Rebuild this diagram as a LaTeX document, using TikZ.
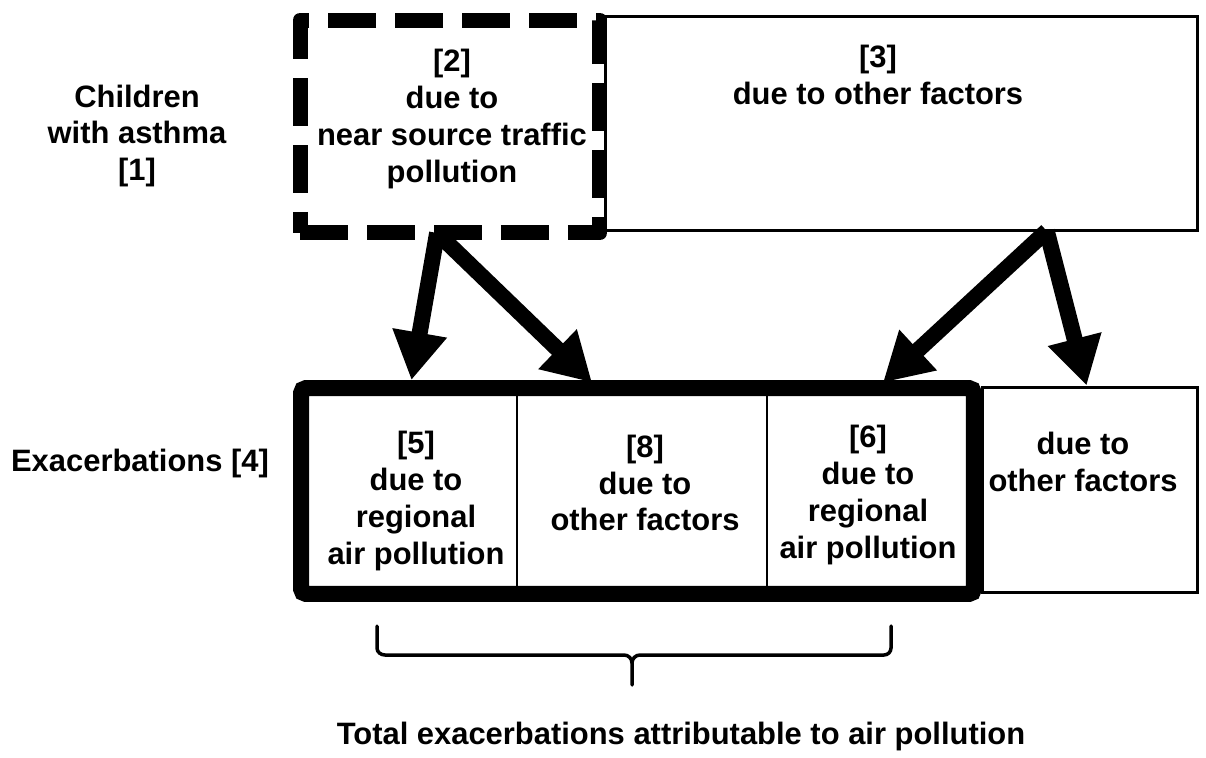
\documentclass[tikz,border=0pt]{standalone}
\usepackage{fontspec}
\setmainfont{Liberation Sans}
\usetikzlibrary{calc,arrows.meta}
\tikzset{
  box/.style={draw, rectangle, outer sep=0pt, inner sep=0pt},
  thinbox/.style={box, line width=0.06cm},
  dashbox/.style={box, line width=0.3cm, dash pattern=on 0.96cm off 0.38cm, line join=round},
  thickbox/.style={box, line width=0.32cm, rounded corners=0.1cm},
  txt/.style={align=center, inner sep=0pt, font=\bfseries\fontsize{17.6pt}{21pt}\selectfont},
  fatarrow/.style={-{Triangle[length=0.96cm,width=1.04cm]}, line width=0.32cm},
}

\begin{document}
\begin{tikzpicture}[x=0.02cm,y=-0.02cm]
  \useasboundingbox (0,0) rectangle (1206,757);
  \node[thinbox, minimum width=11.86cm, minimum height=4.3cm] (other) at (901.5,123.5) {};
  \node[dashbox, minimum width=6cm, minimum height=4.26cm] (near) at (450,126.5) {};
  \node[thinbox, minimum width=4.32cm, minimum height=4.12cm] (rest) at (1090,490) {};
  \node[thickbox, minimum width=13.46cm, minimum height=4.12cm] (exac) at (637.5,491) {};
  \draw[line width=0.04cm] (517,388) -- (517,594);
  \draw[line width=0.04cm] (767,388) -- (767,594);

  \node[txt] (children) at (137,136) {Children\\with asthma\\{[1]}};
  \node[txt] (exaclbl) at (140,463) {Exacerbations [4]};
  \node[txt] (nearlbl) at (452,119) {{[2]}\\due to\\near source traffic\\pollution};
  \node[txt] (otherlbl) at (878,75) {{[3]}\\due to other factors};
  \node[txt] (regA) at (416,501) {{[5]}\\due to\\regional\\air pollution};
  \node[txt] (otherA) at (645,483) {{[8]}\\due to\\other factors};
  \node[txt] (regB) at (868,495) {{[6]}\\due to\\regional\\air pollution};
  \node[txt] (otherB) at (1083,462) {due to\\other factors};
  \node[txt] (total) at (681,736) {Total exacerbations attributable to air pollution};

  \coordinate (nearfoot) at ($(near.south west)!0.457!(near.south east)$);
  \coordinate (otherfoot) at ($(other.south west)!0.745!(other.south east)$);
  \draw[fatarrow, shorten >=0.16cm] (nearfoot) -- ($(exac.north west)!0.162!(exac.north east)$);
  \draw[fatarrow, shorten >=0.16cm] (nearfoot) -- ($(exac.north west)!0.441!(exac.north east)$);
  \draw[fatarrow, shorten >=0.16cm] (otherfoot) -- ($(exac.north west)!0.856!(exac.north east)$);
  \draw[fatarrow, shorten >=0.03cm] (otherfoot) -- ($(rest.north west)!0.486!(rest.north east)$);

  \draw[line width=0.07cm, line cap=round] (377,626) -- (377,648) to[out=-90,in=180] (385,655) -- (624,655)
    to[out=0,in=90] (632,663) -- (632,685);
  \draw[line width=0.07cm, line cap=round] (632,663) to[out=90,in=180] (640,655) -- (884,655)
    to[out=0,in=-90] (891,648) -- (891,626);
\end{tikzpicture}
\end{document}
